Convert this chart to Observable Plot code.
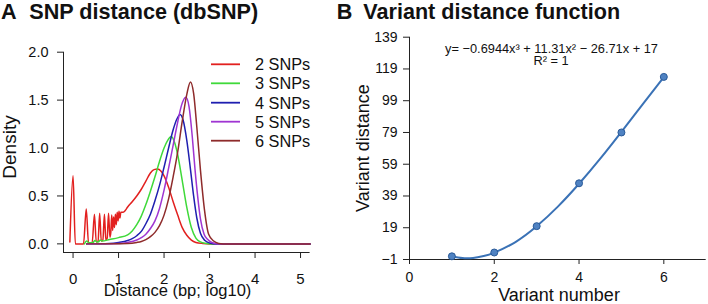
<!DOCTYPE html>
<html>
<head>
<meta charset="utf-8">
<script src="https://cdn.jsdelivr.net/npm/d3@7"></script>
<script src="https://cdn.jsdelivr.net/npm/@observablehq/plot@0.6"></script>
<style>
  html, body { margin: 0; padding: 0; background: #fff; }
  #wrap { position: relative; width: 708px; height: 304px; overflow: hidden; background: #fff; }
  #wrap > svg, #wrap > figure { position: absolute; top: 0; margin: 0; }
</style>
</head>
<body>
<div id="wrap"></div>
<script>
// ---------- Panel A data ----------
const titleA = "SNP distance (dbSNP)";
const xLabelA = "Distance (bp; log10)";
const yLabelA = "Density";
const xTicksA = [0, 1, 2, 3, 4, 5];
const yTicksA = [0, 0.5, 1, 1.5, 2];
const seriesNames = ["2 SNPs", "3 SNPs", "4 SNPs", "5 SNPs", "6 SNPs"];
const seriesColors = ["#e2201f", "#3fd93a", "#1f1fb0", "#9f35d2", "#8e2b2b"];

const snp2X = [-0.07, 0, 0.05, 0.1, 0.2, 0.23, 0.29, 0.34, 0.42, 0.47, 0.51, 0.55, 0.585, 0.62, 0.655, 0.69, 0.72, 0.75, 0.78, 0.81,
  0.83, 0.85, 0.87, 0.89, 0.91, 0.93, 0.95, 0.97, 0.99, 1.01, 1.03, 1.05, 1.1, 1.15, 1.2, 1.3, 1.4, 1.5, 1.6, 1.7, 1.78, 1.86,
  1.93, 2.0, 2.1, 2.2, 2.3, 2.4, 2.5, 2.6, 2.7, 2.85, 3.0, 4.0, 5.21];
const snp2Y = [0.02, 0.71, 0.0, 0.0, 0.0, 0.0, 0.365, 0.01, 0.01, 0.31, 0.02, 0.03, 0.32, 0.03, 0.04, 0.31, 0.04, 0.06, 0.32, 0.07,
  0.12, 0.30, 0.14, 0.28, 0.17, 0.31, 0.20, 0.33, 0.24, 0.34, 0.27, 0.33, 0.33, 0.35, 0.385, 0.44, 0.50, 0.57, 0.655, 0.74, 0.775, 0.78,
  0.76, 0.71, 0.59, 0.44, 0.30, 0.17, 0.09, 0.04, 0.015, 0.004, 0.0, 0.0, 0.0];

const snp3X = [0.25, 0.3, 0.35, 0.44, 0.48, 0.53, 0.57, 0.6, 0.64, 0.8, 1.0, 1.2, 1.3, 1.4, 1.5, 1.6, 1.7, 1.8, 1.9, 2.0, 2.08, 2.16,
  2.23, 2.3, 2.4, 2.5, 2.6, 2.7, 2.8, 2.9, 3.05, 4.0, 5.21];
const snp3Y = [0.0, 0.03, 0.01, 0.015, 0.035, 0.02, 0.025, 0.04, 0.03, 0.045, 0.065, 0.095, 0.135, 0.20, 0.29, 0.41, 0.55, 0.70, 0.86, 1.0, 1.08, 1.12,
  1.06, 0.93, 0.66, 0.38, 0.17, 0.06, 0.02, 0.006, 0.0, 0.0, 0.0];

const snp4X = [0.3, 0.8, 1.0, 1.2, 1.3, 1.4, 1.5, 1.6, 1.7, 1.8, 1.9, 2.0, 2.1, 2.2, 2.28, 2.35, 2.42, 2.5, 2.58, 2.65, 2.72, 2.8,
  2.9, 3.0, 3.15, 4.0, 5.21];
const snp4Y = [0.0, 0.005, 0.015, 0.035, 0.055, 0.085, 0.13, 0.21, 0.31, 0.45, 0.61, 0.80, 1.0, 1.19, 1.30, 1.35, 1.29, 1.08, 0.78, 0.50, 0.27, 0.11,
  0.035, 0.01, 0.0, 0.0, 0.0];

const snp5X = [0.3, 1.0, 1.2, 1.4, 1.5, 1.6, 1.7, 1.8, 1.9, 2.0, 2.1, 2.2, 2.3, 2.38, 2.48, 2.55, 2.62, 2.68, 2.74, 2.8, 2.88, 2.95,
  3.05, 3.2, 4.0, 5.21];
const snp5Y = [0.0, 0.005, 0.015, 0.04, 0.065, 0.10, 0.16, 0.24, 0.37, 0.56, 0.79, 1.03, 1.27, 1.44, 1.53, 1.43, 1.12, 0.78, 0.49, 0.26, 0.10, 0.05,
  0.015, 0.0, 0.0, 0.0];

const snp6X = [0.3, 1.2, 1.4, 1.5, 1.6, 1.7, 1.8, 1.9, 2.0, 2.1, 2.2, 2.3, 2.4, 2.5, 2.58, 2.65, 2.72, 2.8, 2.89, 2.98, 3.09, 3.2,
  3.3, 4.0, 5.21];
const snp6Y = [0.0, 0.005, 0.015, 0.025, 0.045, 0.075, 0.12, 0.19, 0.30, 0.47, 0.70, 0.96, 1.28, 1.56, 1.69, 1.57, 1.22, 0.77, 0.35, 0.10, 0.03, 0.005,
  0.0, 0.0, 0.0];

// ---------- Panel B data ----------
const titleB = "Variant distance function";
const xLabelB = "Variant number";
const yLabelB = "Variant distance";
const equationText = "y= \u22120.6944x\u00B3 + 11.31x\u00B2 \u2212 26.71x + 17";
const r2Text = "R\u00B2 = 1";
const xTicksB = [0, 2, 4, 6];
const yTicksB = [-1, 19, 39, 59, 79, 99, 119, 139];
const variantNumber = [1, 2, 3, 4, 5, 6];
const variantDistance = [1, 3.4, 20, 47, 79, 114];
const fitX = [1, 1.25, 1.5, 1.75, 2, 2.5, 3, 3.5, 4, 4.5, 5, 5.5, 6];
const fitY = [0.9, -0.1, 0.0, 1.2, 3.3, 10, 19.9, 32.3, 46.7, 62.5, 79.4, 96.7, 113.9];

// ---------- build ----------
const FONT = "'Liberation Sans', Arial, Helvetica, sans-serif";
const wrap = document.getElementById("wrap");

const seriesX = [snp2X, snp3X, snp4X, snp5X, snp6X];
const seriesY = [snp2Y, snp3Y, snp4Y, snp5Y, snp6Y];
const densityRows = [];
seriesNames.forEach((name, i) => {
  seriesX[i].forEach((x, j) => densityRows.push({series: name, x, y: seriesY[i][j]}));
});

const ax = [-0.21, 5.21], ay = [-0.09, 2.0];
const plotA = Plot.plot({
  width: 354, height: 304,
  marginLeft: 63, marginRight: 44.4, marginTop: 51.7, marginBottom: 52,
  x: {domain: ax},
  y: {domain: ay},
  color: {domain: seriesNames, range: seriesColors},
  style: {fontFamily: FONT, fontSize: "14px", color: "#111", background: "transparent", overflow: "visible"},
  marks: [
    Plot.ruleX([ax[0]], {y1: ay[0], y2: ay[1], stroke: "#222", strokeWidth: 1}),
    Plot.ruleY([ay[0]], {x1: ax[0], x2: ax[1], stroke: "#222", strokeWidth: 1}),
    Plot.axisY({ticks: yTicksA, tickFormat: d3.format(".1f"), tickSize: 6, tickPadding: 9, label: null, fontSize: 14.5, stroke: "#222"}),
    Plot.axisX({ticks: xTicksA, tickFormat: d3.format("d"), tickSize: 6, tickPadding: 14.5, label: null, fontSize: 15, stroke: "#222"}),
    Plot.line(densityRows, {x: "x", y: "y", z: "series", stroke: "series", curve: "monotone-x", strokeWidth: 1.5})
  ]
});
plotA.style.left = "0px";
wrap.appendChild(plotA);

const points = variantNumber.map((x, i) => ({x, y: variantDistance[i]}));
const fitRows = fitX.map((x, i) => ({x, y: fitY[i]}));
const bx = [0, 7], by = [-1, 139];
const plotB = Plot.plot({
  width: 354, height: 304,
  marginLeft: 55, marginRight: 2.3, marginTop: 36.7, marginBottom: 45,
  x: {domain: bx},
  y: {domain: by},
  style: {fontFamily: FONT, fontSize: "14px", color: "#111", background: "transparent", overflow: "visible"},
  marks: [
    Plot.ruleX([bx[0]], {y1: by[0], y2: by[1], stroke: "#222", strokeWidth: 1}),
    Plot.ruleY([by[0]], {x1: bx[0], x2: bx[1], stroke: "#222", strokeWidth: 1}),
    Plot.axisY({ticks: yTicksB, tickFormat: d3.format("d"), tickSize: 6, tickPadding: 6, label: null, fontSize: 14, stroke: "#222"}),
    Plot.axisX({ticks: xTicksB, tickFormat: d3.format("d"), tickSize: 5, tickPadding: 8, label: null, fontSize: 14, stroke: "#222"}),
    Plot.line(fitRows, {x: "x", y: "y", curve: "natural", stroke: "#3a72b6", strokeWidth: 2}),
    Plot.dot(points, {x: "x", y: "y", r: 3.5, fill: "#4f82c2", stroke: "#2a5a98", strokeWidth: 1})
  ]
});
plotB.style.left = "354px";
wrap.appendChild(plotB);

// ---------- overlay: titles, axis labels, annotation and legend ----------
const ov = d3.select(wrap).append("svg")
  .attr("width", 708).attr("height", 304)
  .style("left", "0px").style("pointer-events", "none")
  .style("font-family", FONT);

const titles = [
  {t: "A", x: 1}, {t: titleA, x: 29.3},
  {t: "B", x: 336.7}, {t: titleB, x: 363.3}
];
ov.selectAll("text.title").data(titles).join("text")
  .attr("class", "title")
  .attr("x", d => d.x).attr("y", 18.5)
  .attr("font-size", 21.6).attr("font-weight", "bold").attr("fill", "#111")
  .text(d => d.t);

const labels = [
  {t: xLabelA, x: 177.5, y: 295.5, size: 16.5, rot: 0},
  {t: yLabelA, x: 15.6, y: 147, size: 19, rot: -90},
  {t: xLabelB, x: 559, y: 301, size: 18, rot: 0},
  {t: yLabelB, x: 369, y: 148, size: 18, rot: -90},
  {t: equationText, x: 551.5, y: 52.7, size: 12.8, rot: 0},
  {t: r2Text, x: 551, y: 65, size: 12.8, rot: 0}
];
ov.selectAll("text.lab").data(labels).join("text")
  .attr("class", "lab")
  .attr("transform", d => `translate(${d.x},${d.y}) rotate(${d.rot})`)
  .attr("text-anchor", "middle")
  .attr("font-size", d => d.size).attr("fill", "#111")
  .text(d => d.t);

const legendY = [64.3, 83.3, 102.7, 121.7, 140.7];
const lg = ov.append("g");
seriesNames.forEach((name, i) => {
  lg.append("line").attr("x1", 211).attr("x2", 240).attr("y1", legendY[i]).attr("y2", legendY[i])
    .attr("stroke", seriesColors[i]).attr("stroke-width", 1.8);
  lg.append("text").attr("x", 255).attr("y", legendY[i]).attr("dy", "0.36em")
    .attr("font-size", 16.3).attr("fill", "#111").text(name);
});
</script>
</body>
</html>
